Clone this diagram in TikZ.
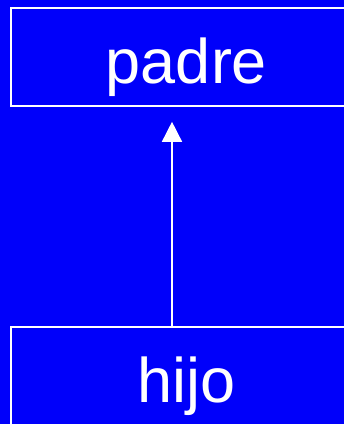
\documentclass[tikz,border=0pt]{standalone}
\usepackage{fontspec}
\setmainfont{Liberation Sans}
\usetikzlibrary{arrows.meta, calc}
\definecolor{fondo}{RGB}{0,0,250}

\begin{document}
\begin{tikzpicture}[x=1pt, y=-1pt,
  clase/.style={draw=white, line width=1.6pt, text=white, minimum width=351pt,
    minimum height=98pt, text height=52pt, text depth=0pt, inner sep=0pt,
    font=\fontsize{63}{63}\selectfont},
  hereda/.style={-{Triangle[length=20pt, width=20pt]}, draw=white, fill=white,
    line width=1.5pt, shorten >=15pt}
]

% --- fondo y recorte ---
\fill[fondo] (0,0) rectangle (344,424);
\useasboundingbox (0,0) rectangle (344,424);
\clip (0,0) rectangle (344,424);

% --- las dos clases ---
\node[clase] (padre) at (186.5,57) {padre};
\node[clase] (hijo) at (186.5,376) {hijo};

% --- herencia: hijo hacia padre ---
\coordinate (eje) at (172,0);
\draw[hereda] (hijo.north -| eje) -- (padre.south -| eje);

\end{tikzpicture}
\end{document}
